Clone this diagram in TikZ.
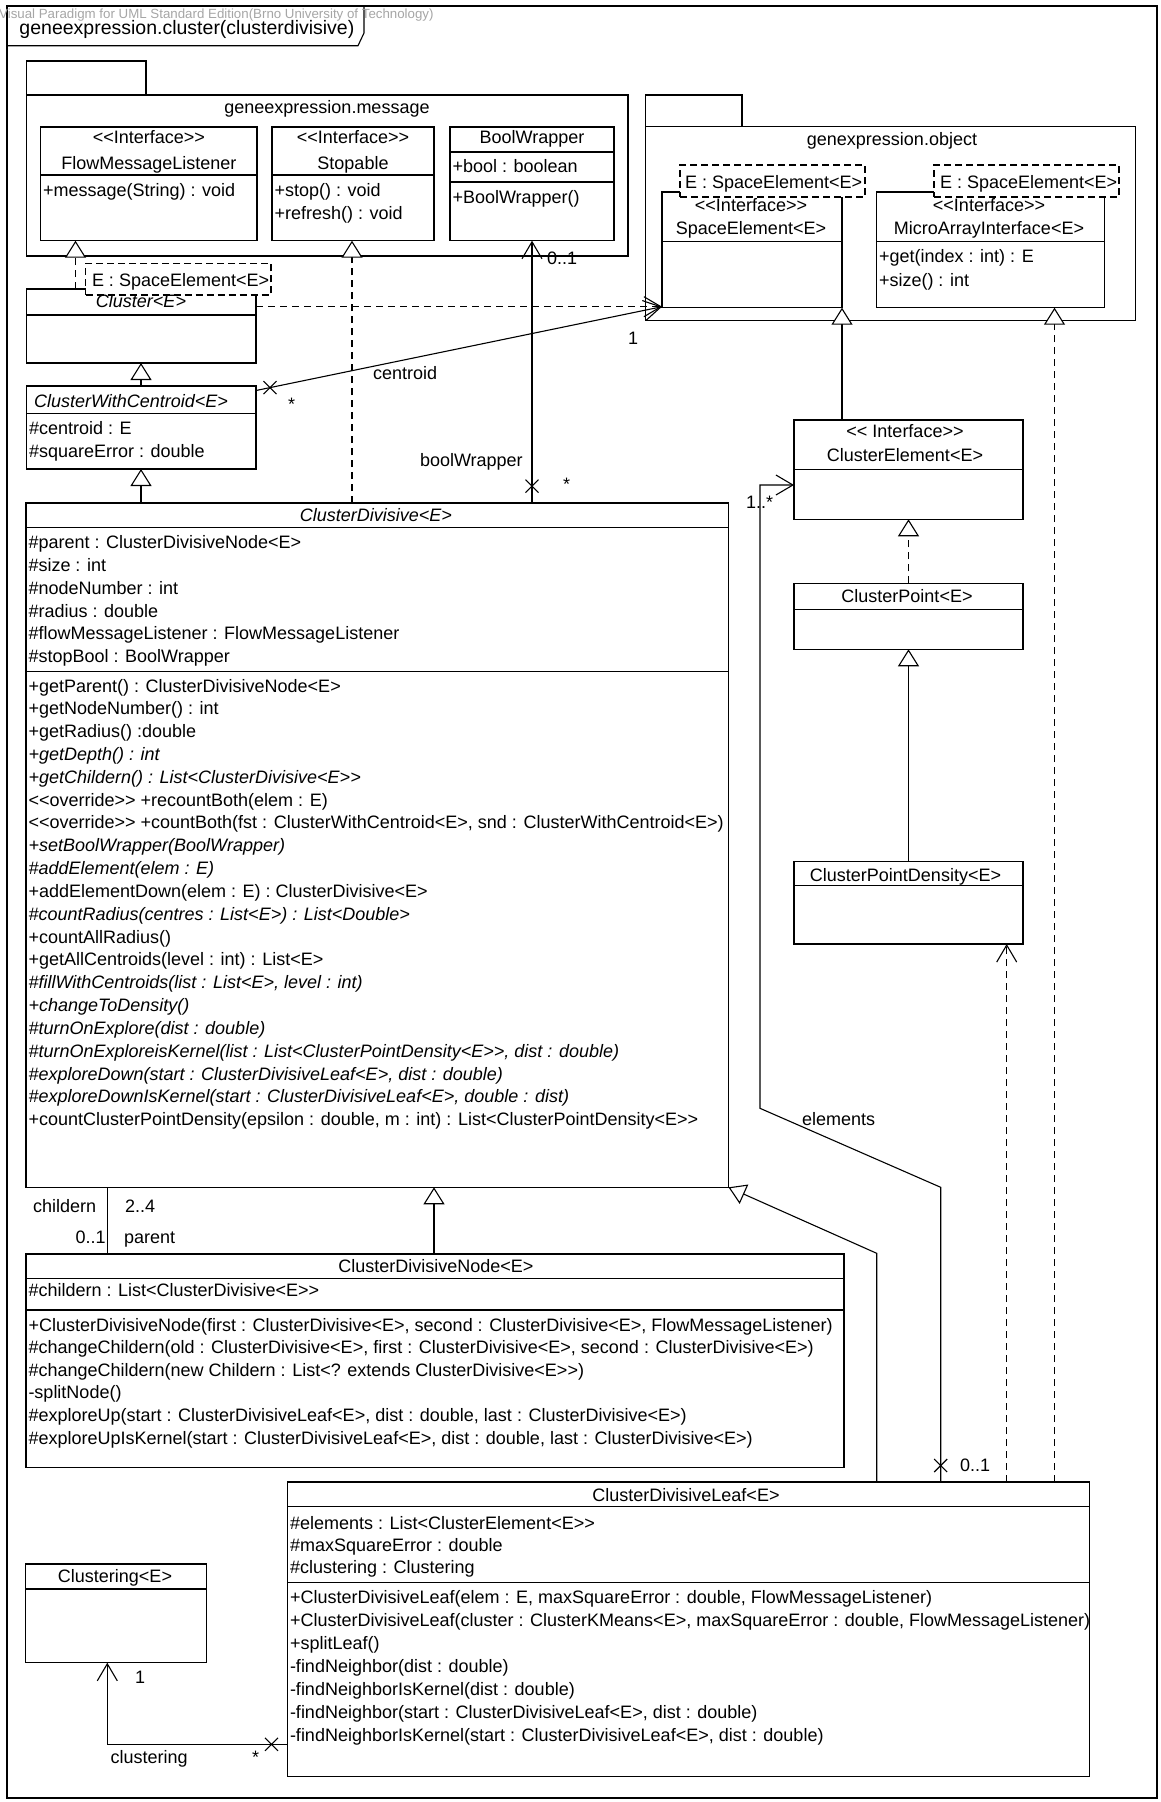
\documentclass[tikz,border=0pt]{standalone}
\usepackage{fontspec}
\newfontfamily\umlfont{Liberation Sans}
\usetikzlibrary{arrows.meta}

% class / package box: name, x1, y1, x2, y2 (y grows downwards)
\newcommand\cbox[5]{\node[umlbox, minimum width={(#4)-(#2)}, minimum height={(#5)-(#3)}, anchor=north west] (#1) at (#2,#3) {};}
% template parameter box
\newcommand\tbox[5]{\node[tmplbox, minimum width={(#4)-(#2)}, minimum height={(#5)-(#3)}, anchor=north west] (#1) at (#2,#3) {};}
% compartment separator
\newcommand\hdiv[3]{\draw[lw] (#1,#3) -- (#2,#3);}
% stacked text lines: prefix, x, first baseline, line step, {list}
\newcommand\textlines[5]{\foreach \t [count=\i from 0] in {#5} {\node[lt] (#1-\i) at (#2,{#3+\i*#4}) {\t};}}
% cross marking a non-navigable association end
\newcommand\xmark[1]{\draw[lw] ([shift={(-6.5,-6.5)}]#1) -- ([shift={(6.5,6.5)}]#1) ([shift={(-6.5,6.5)}]#1) -- ([shift={(6.5,-6.5)}]#1);}

\begin{document}
\begin{tikzpicture}[x=1pt,y=-1pt,
  lw/.style={line width=1.1pt},
  umlbox/.style={draw, lw, fill=white, inner sep=0pt, outer sep=0pt, rectangle},
  tmplbox/.style={draw, lw, fill=white, dash pattern=on 7pt off 4pt, inner sep=0pt, outer sep=0pt, rectangle},
  txt/.style={inner sep=0pt, outer sep=0pt, font=\umlfont\fontsize{18}{22}\selectfont},
  lt/.style={txt, anchor=base west},
  ct/.style={txt, anchor=base},
  solidconn/.style={lw},
  dashconn/.style={lw, dash pattern=on 7pt off 5pt},
  gentip/.style={-{Triangle[length=17pt, width=21pt, fill=white]}},
  navtip/.style={-{Straight Barb[length=17pt, width=20pt]}},
]
\fill[white] (0,0) rectangle (1160,1802);
\useasboundingbox (0,0) rectangle (1160,1802);

% ---------- diagram frame ----------
\node[draw, lw, inner sep=0pt, outer sep=0pt, minimum width=1150pt, minimum height=1792pt, anchor=north west] (frame) at (7,6) {};
\draw[lw] (7,45.7) -- (358,45.7) -- (364,33) -- (364,6);
\node[anchor=base west, inner sep=0pt, font=\umlfont\fontsize{13.3}{14}\selectfont, text=black!35] (vp) at (-1,18) {Visual Paradigm for UML Standard Edition(Brno University of Technology)};
\node[txt, anchor=base west, font=\umlfont\fontsize{19.5}{22}\selectfont] (title) at (19.5,34) {geneexpression.cluster(clusterdivisive)};

% ---------- packages ----------
\cbox{msgtab}{26.5}{61}{146}{95}
\cbox{msgpkg}{26.5}{95}{628}{256}
\node[ct] (msglabel) at (327,113) {geneexpression.message};
\cbox{objtab}{645.8}{95}{742}{126.7}
\cbox{objpkg}{645.8}{126.7}{1135.6}{320.7}
\node[ct] (objlabel) at (892,145.5) {genexpression.object};

% ---------- geneexpression.message ----------
\cbox{fml}{40.8}{127}{257}{240.7}
\hdiv{40.8}{257}{175}
\node[ct] (fml-st) at (148.9,143) {<<Interface>>};
\node[ct] (fml-nm) at (148.9,169.5) {FlowMessageListener};
\node[lt] (fml-op) at (43,196) {+message(String) : void};

\cbox{stop}{272}{127}{434}{240.7}
\hdiv{272}{434}{175}
\node[ct] (stop-st) at (353,143) {<<Interface>>};
\node[ct] (stop-nm) at (353,169.5) {Stopable};
\textlines{stop-op}{274.5}{196}{23}{{+stop() : void},{+refresh() : void}}

\cbox{bw}{450}{127}{614}{240.7}
\hdiv{450}{614}{152}
\hdiv{450}{614}{182}
\node[ct] (bw-nm) at (532,143) {BoolWrapper};
\node[lt] (bw-at) at (452.5,172) {+bool : boolean};
\node[lt] (bw-op) at (452.5,203) {+BoolWrapper()};

% ---------- genexpression.object ----------
\cbox{se}{662}{192}{842}{307.7}
\hdiv{662}{842}{241.7}
\tbox{tse}{680}{165}{865}{197}
\node[lt] (tse-t) at (685,188) {E : SpaceElement<E>};
\node[ct] (se-st) at (751,211) {<<Interface>>};
\node[ct] (se-nm) at (751,234) {SpaceElement<E>};

\cbox{mai}{876.5}{192}{1104.8}{307.7}
\hdiv{876.5}{1104.8}{241.7}
\tbox{tmai}{934}{165}{1119}{197}
\node[lt] (tmai-t) at (940,188) {E : SpaceElement<E>};
\node[ct] (mai-st) at (989,211) {<<Interface>>};
\node[ct] (mai-nm) at (989,234) {MicroArrayInterface<E>};
\textlines{mai-op}{879}{262.7}{23.3}{{+get(index : int) : E},{+size() : int}}

% ---------- cluster hierarchy ----------
\cbox{cl}{26.5}{289}{256}{363}
\hdiv{26.5}{256}{315}
\tbox{tcl}{85.7}{263.3}{271}{295}
\node[lt] (tcl-t) at (92,286) {E : SpaceElement<E>};
\node[ct] (cl-nm) at (141,307.7) {\itshape Cluster<E>};

\cbox{cwc}{26.5}{386}{256}{469}
\hdiv{26.5}{256}{413.3}
\node[ct] (cwc-nm) at (131,407.5) {\itshape ClusterWithCentroid<E>};
\textlines{cwc-at}{29}{434}{23.7}{{\#centroid : E},{\#squareError : double}}

\cbox{cd}{26}{503}{728.5}{1187.3}
\hdiv{26}{728.5}{527.3}
\hdiv{26}{728.5}{671.7}
\node[ct] (cd-nm) at (376,521.5) {\itshape ClusterDivisive<E>};
\textlines{cd-at}{28.5}{548.7}{22.8}{{\#parent : ClusterDivisiveNode<E>},{\#size : int},{\#nodeNumber : int},{\#radius : double},{\#flowMessageListener : FlowMessageListener},{\#stopBool : BoolWrapper}}
\textlines{cd-op}{28.5}{692}{22.83}{%
{+getParent() : ClusterDivisiveNode<E>},
{+getNodeNumber() : int},
{+getRadius() :double},
{\itshape +getDepth() : int},
{\itshape +getChildern() : List<ClusterDivisive<E>>},
{<<override>> +recountBoth(elem : E)},
{<<override>> +countBoth(fst : ClusterWithCentroid<E>, snd : ClusterWithCentroid<E>)},
{\itshape +setBoolWrapper(BoolWrapper)},
{\itshape \#addElement(elem : E)},
{+addElementDown(elem : E) : ClusterDivisive<E>},
{\itshape \#countRadius(centres : List<E>) : List<Double>},
{+countAllRadius()},
{+getAllCentroids(level : int) : List<E>},
{\itshape \#fillWithCentroids(list : List<E>, level : int)},
{\itshape +changeToDensity()},
{\itshape \#turnOnExplore(dist : double)},
{\itshape \#turnOnExploreisKernel(list : List<ClusterPointDensity<E>>, dist : double)},
{\itshape \#exploreDown(start : ClusterDivisiveLeaf<E>, dist : double)},
{\itshape \#exploreDownIsKernel(start : ClusterDivisiveLeaf<E>, double : dist)},
{+countClusterPointDensity(epsilon : double, m : int) : List<ClusterPointDensity<E>>}}

\cbox{cdn}{26}{1254}{844}{1467.3}
\hdiv{26}{844}{1278.3}
\hdiv{26}{844}{1310}
\node[ct] (cdn-nm) at (436,1272) {ClusterDivisiveNode<E>};
\node[lt] (cdn-at) at (28.5,1296.7) {\#childern : List<ClusterDivisive<E>>};
\textlines{cdn-op}{28.5}{1331}{22.6}{%
{+ClusterDivisiveNode(first : ClusterDivisive<E>, second : ClusterDivisive<E>, FlowMessageListener)},
{\#changeChildern(old : ClusterDivisive<E>, first : ClusterDivisive<E>, second : ClusterDivisive<E>)},
{\#changeChildern(new Childern : List<? extends ClusterDivisive<E>>)},
{-splitNode()},
{\#exploreUp(start : ClusterDivisiveLeaf<E>, dist : double, last : ClusterDivisive<E>)},
{\#exploreUpIsKernel(start : ClusterDivisiveLeaf<E>, dist : double, last : ClusterDivisive<E>)}}

\cbox{leaf}{287.5}{1482}{1089.5}{1776.7}
\hdiv{287.5}{1089.5}{1506.7}
\hdiv{287.5}{1089.5}{1582.7}
\node[ct] (leaf-nm) at (686,1501) {ClusterDivisiveLeaf<E>};
\textlines{leaf-at}{290}{1529.3}{22.2}{{\#elements : List<ClusterElement<E>>},{\#maxSquareError : double},{\#clustering : Clustering}}
\textlines{leaf-op}{290}{1603.3}{22.95}{%
{+ClusterDivisiveLeaf(elem : E, maxSquareError : double, FlowMessageListener)},
{+ClusterDivisiveLeaf(cluster : ClusterKMeans<E>, maxSquareError : double, FlowMessageListener)},
{+splitLeaf()},
{-findNeighbor(dist : double)},
{-findNeighborIsKernel(dist : double)},
{-findNeighbor(start : ClusterDivisiveLeaf<E>, dist : double)},
{-findNeighborIsKernel(start : ClusterDivisiveLeaf<E>, dist : double)}}

\cbox{clu}{25.7}{1564}{206.7}{1662.7}
\hdiv{25.7}{206.7}{1589}
\node[ct] (clu-nm) at (115,1582) {Clustering<E>};

% ---------- cluster elements ----------
\cbox{ce}{794}{420}{1023}{519.3}
\hdiv{794}{1023}{469.3}
\node[ct] (ce-st) at (905,437.7) {<< Interface>>};
\node[ct] (ce-nm) at (905,461) {ClusterElement<E>};

\cbox{cp}{794}{583.3}{1023}{649.3}
\hdiv{794}{1023}{609.3}
\node[ct] (cp-nm) at (907,602) {ClusterPoint<E>};

\cbox{cpd}{794}{861.7}{1023}{944}
\hdiv{794}{1023}{885.7}
\node[ct] (cpd-nm) at (905.5,881) {ClusterPointDensity<E>};

% ---------- routing points ----------
\coordinate (xfml) at (75.5,0);
\coordinate (xcw) at (141,0);
\coordinate (xst) at (352,0);
\coordinate (xbw) at (532,0);
\coordinate (ydep) at (0,306.7);
\coordinate (ycen) at (0,390.5);
\coordinate (xden) at (1006.7,0);
\coordinate (xmai) at (1054.5,0);
\coordinate (g1) at (876.7,1253.3);
\coordinate (e1) at (940.7,1187.3);
\coordinate (e2) at (760,1108.3);
\coordinate (e3) at (760,485);
\coordinate (xcdn) at (434,0);
\coordinate (xcomp) at (107.6,0);
\coordinate (k1) at (107.3,1744.3);

% ---------- generalizations and realizations ----------
\draw[dashconn, gentip] (cl.north -| xfml) -- (fml.south -| xfml);
\draw[solidconn, gentip] (cwc.north -| xcw) -- (cl.south -| xcw);
\draw[solidconn, gentip] (cd.north -| xcw) -- (cwc.south -| xcw);
\draw[dashconn, gentip] (cd.north -| xst) -- (stop.south -| xst);
\draw[solidconn, gentip] (ce.north -| se.south east) -- (se.south east);
\draw[dashconn, gentip] (cp.north) -- (ce.south);
\draw[solidconn, gentip] (cpd.north) -- (cp.south);
\draw[dashconn, gentip] (leaf.north -| xmai) -- (mai.south -| xmai);
\draw[solidconn, gentip] (leaf.north -| g1) -- (g1) -- (cd.south east);
\draw[solidconn, gentip] (cdn.north -| xcdn) -- (cd.south -| xcdn);

% ---------- dependencies ----------
\draw[dashconn, navtip] (cl.east |- ydep) -- (se.west |- ydep);
\draw[dashconn, navtip] (leaf.north -| xden) -- (cpd.south -| xden);

% ---------- associations ----------
\draw[solidconn, navtip] (cd.north -| xbw) -- (bw.south -| xbw);
\coordinate (m-bw) at (532,486.2);
\xmark{m-bw}
\node[lt] (bw-role) at (420,466) {boolWrapper};
\node[lt] (bw-m1) at (563,490) {*};
\node[lt] (bw-m2) at (547,264) {0..1};

\draw[solidconn, navtip] (cwc.east |- ycen) -- (se.west |- ydep);
\coordinate (m-cen) at (270,387.6);
\xmark{m-cen}
\node[lt] (cen-role) at (373,379) {centroid};
\node[lt] (cen-m1) at (288,410) {*};
\node[lt] (cen-m2) at (628,344) {1};

\draw[solidconn, navtip] (leaf.north -| e1) -- (e1) -- (e2) -- (e3) -- (ce.west |- e3);
\coordinate (m-el) at (940.7,1465.5);
\xmark{m-el}
\node[lt] (el-role) at (802,1125) {elements};
\node[lt] (el-m1) at (960,1471) {0..1};
\node[lt] (el-m2) at (746,508) {1..*};

\draw[solidconn] (cd.south -| xcomp) -- (cdn.north -| xcomp);
\node[lt] (ch-role) at (33,1212) {childern};
\node[lt] (ch-m) at (125,1212) {2..4};
\node[lt] (pa-m) at (75.5,1243) {0..1};
\node[lt] (pa-role) at (124,1243) {parent};

\draw[solidconn, navtip] (leaf.west |- k1) -- (k1) -- (clu.south -| k1);
\coordinate (m-clu) at (271.5,1744.3);
\xmark{m-clu}
\node[lt] (clu-role) at (110.7,1763) {clustering};
\node[lt] (clu-m1) at (252,1763) {*};
\node[lt] (clu-m2) at (135,1683) {1};
\end{tikzpicture}
\end{document}
